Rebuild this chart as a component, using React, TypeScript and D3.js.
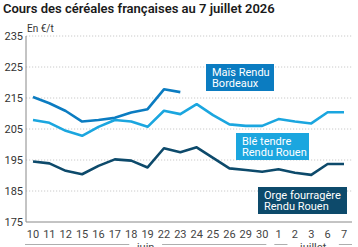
import React from "react";
import * as d3 from "d3";

// Trading days (day of month) and the month each belongs to
const days = ["10", "11", "12", "15", "16", "17", "18", "19", "22", "23", "24", "25", "26", "29", "30", "1", "2", "3", "6", "7"];
const months = ["juin", "juin", "juin", "juin", "juin", "juin", "juin", "juin", "juin", "juin", "juin", "juin", "juin", "juin", "juin", "juillet", "juillet", "juillet", "juillet", "juillet"];

// Prices in €/t
const maisBordeaux = [215.3, 213.3, 210.8, 207.4, 207.9, 208.6, 210.3, 211.4, 217.8, 216.9];
const bleRouen = [207.9, 207.0, 204.4, 202.8, 205.7, 207.9, 207.4, 205.7, 210.9, 209.8, 213.0, 209.5, 206.5, 206.0, 206.0, 208.2, 207.4, 206.8, 210.4, 210.4];
const orgeRouen = [194.5, 193.9, 191.5, 190.4, 193.1, 195.2, 194.8, 192.6, 198.8, 197.5, 199.1, 195.7, 192.3, 191.8, 191.2, 192.0, 190.9, 190.2, 193.7, 193.7];

const yTicks = [175, 185, 195, 205, 215, 225, 235];

const FONT = "Roboto, 'Noto Sans', sans-serif";

export default function App() {
  const W = 358;
  const H = 247;
  const left = 26;
  const right = 352;

  const x = d3
    .scalePoint<string>()
    .domain(days.map((_, i) => String(i)))
    .range([33, 344]);
  const xi = (i: number) => x(String(i)) as number;
  const y = d3.scaleLinear().domain([175, 235]).range([222, 36]);

  const line = d3
    .line<number>()
    .x((_, i) => xi(i))
    .y((d) => y(d));

  const series = [
    { values: maisBordeaux, color: "#0b7cc1" },
    { values: bleRouen, color: "#1ba6df" },
    { values: orgeRouen, color: "#0d4a6b" },
  ];

  // Month groups beneath the day labels
  const groups: { name: string; first: number; last: number }[] = [];
  months.forEach((m, i) => {
    const g = groups[groups.length - 1];
    if (g && g.name === m) g.last = i;
    else groups.push({ name: m, first: i, last: i });
  });
  const step = x.step();

  const labels = [
    { lines: ["Maïs Rendu", "Bordeaux"], color: "#0b7cc1", x0: 206, y0: 64, w: 68 },
    { lines: ["Blé tendre", "Rendu Rouen"], color: "#1ba6df", x0: 236, y0: 133, w: 73 },
    { lines: ["Orge fourragère", "Rendu Rouen"], color: "#0d4a6b", x0: 258, y0: 187, w: 89 },
  ];

  return (
    <svg
      width={W}
      height={H}
      style={{ position: "absolute", left: 0, top: 0, background: "#fff" }}
      fontFamily={FONT}
    >
      <text x={3} y={13} fontSize={13} fontWeight={600} fill="#1a1a1a">
        Cours des céréales françaises au 7 juillet 2026
      </text>
      <text x={27} y={32} fontSize={10} fill="#333">
        En €/t
      </text>

      {yTicks.map((t) => (
        <g key={t}>
          {t !== 175 && (
            <line
              x1={left}
              x2={right}
              y1={y(t)}
              y2={y(t)}
              stroke="#bdbdbd"
              strokeWidth={0.8}
              strokeDasharray="1.2,1.8"
            />
          )}
          <text x={23} y={y(t) + 4} fontSize={11} fill="#333" textAnchor="end">
            {t}
          </text>
        </g>
      ))}

      <line x1={left} x2={left} y1={36} y2={222} stroke="#888" strokeWidth={1} />
      <line x1={left} x2={right} y1={222} y2={222} stroke="#888" strokeWidth={1} />

      {days.map((d, i) => (
        <text key={i} x={xi(i)} y={238} fontSize={11} fill="#444" textAnchor="middle">
          {d}
        </text>
      ))}

      {groups.map((g, gi) => {
        const a = gi === 0 ? left - 1 : xi(g.first) - step / 2 + 4;
        const b = gi === groups.length - 1 ? right : xi(g.last) + step / 2 - 4;
        const c = (a + b) / 2;
        const half = g.name.length * 3.1 + 4;
        return (
          <g key={g.name}>
            <line x1={a} x2={c - half} y1={244.5} y2={244.5} stroke="#999" strokeWidth={0.8} />
            <line x1={c + half} x2={b} y1={244.5} y2={244.5} stroke="#999" strokeWidth={0.8} />
            <text x={c} y={251} fontSize={11} fill="#444" textAnchor="middle">
              {g.name}
            </text>
          </g>
        );
      })}

      {series.map((s, i) => (
        <path
          key={i}
          d={line(s.values) as string}
          fill="none"
          stroke={s.color}
          strokeWidth={2.6}
          strokeLinejoin="round"
        />
      ))}

      {labels.map((l, i) => (
        <g key={i}>
          <rect x={l.x0} y={l.y0} width={l.w} height={27} fill={l.color} />
          <text x={l.x0 + 6} y={l.y0 + 12.2} fontSize={11} fill="#fff">
            {l.lines.map((t, j) => (
              <tspan key={j} x={l.x0 + 6} dy={j === 0 ? 0 : 10.8}>
                {t}
              </tspan>
            ))}
          </text>
        </g>
      ))}
    </svg>
  );
}
